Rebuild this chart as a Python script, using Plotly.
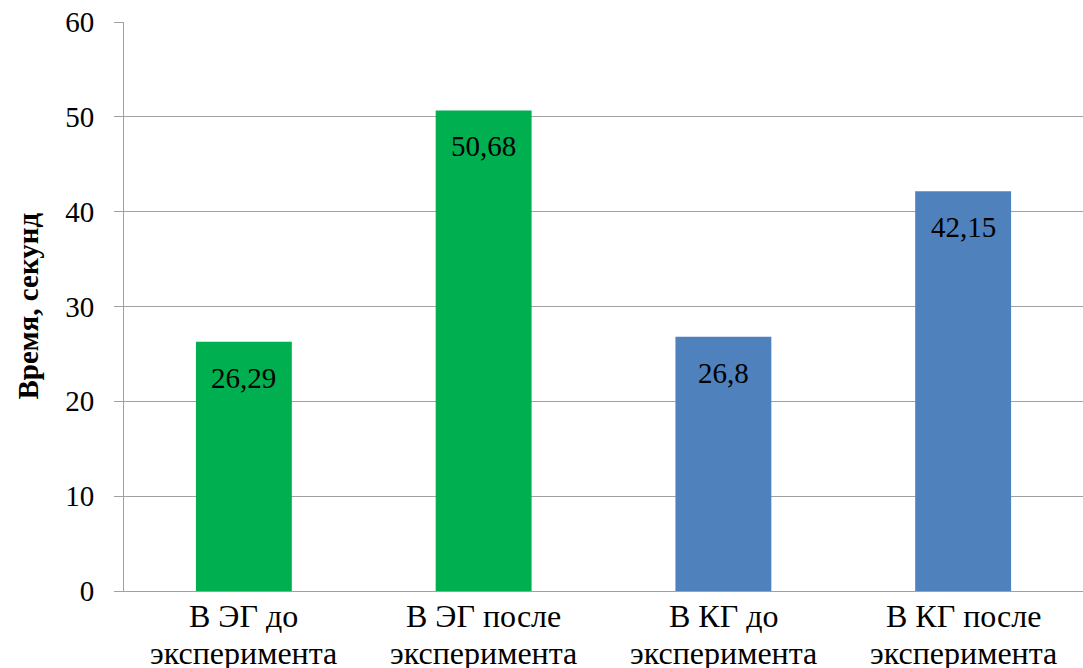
import plotly.graph_objects as go

# Results by group, seconds
categories = ["ЭГ до", "ЭГ после", "КГ до", "КГ после"]
label_line1 = ["В ЭГ до", "В ЭГ после", "В КГ до", "В КГ после"]
label_line2 = ["эксперимента", "эксперимента", "эксперимента", "эксперимента"]
values = [26.29, 50.68, 26.8, 42.15]
value_labels = ["26,29", "50,68", "26,8", "42,15"]
bar_colors = ["#00b050", "#00b050", "#4f81bd", "#4f81bd"]
y_title = "Время, секунд"

grid = "#a0a0a0"
font_family = "Liberation Serif"

fig = go.Figure(go.Bar(
    x=categories, y=values, width=0.4,
    marker=dict(color=bar_colors, line=dict(width=0)),
    hoverinfo="skip",
))

# value labels just inside the top of each bar
for cat, val, lab in zip(categories, values, value_labels):
    fig.add_annotation(x=cat, y=val, text=lab, showarrow=False,
                       yanchor="top", yshift=-18,
                       font=dict(family=font_family, size=29, color="#000000"))

# two-line category labels under the axis, tighter line spacing
for cat, l1, l2 in zip(categories, label_line1, label_line2):
    fig.add_annotation(x=cat, y=0, text=l1, showarrow=False,
                       yanchor="middle", yshift=-25,
                       font=dict(family=font_family, size=32, color="#000000"))
    fig.add_annotation(x=cat, y=0, text=l2, showarrow=False,
                       yanchor="middle", yshift=-62,
                       font=dict(family=font_family, size=32, color="#000000"))

# vertical axis title
fig.add_annotation(xref="paper", yref="paper", x=(27 - 124) / 959, y=0.5,
                   text=f"<b>{y_title}</b>", textangle=-90, showarrow=False,
                   xanchor="center", yanchor="middle",
                   font=dict(family=font_family, size=29, color="#000000"))

fig.update_layout(
    width=1083, height=668,
    margin=dict(l=124, r=0, t=22, b=77),
    paper_bgcolor="white", plot_bgcolor="white",
    showlegend=False,
    font=dict(family=font_family, color="#000000"),
)
fig.update_yaxes(
    range=[0, 60], dtick=10, tickformat="d",
    showgrid=True, gridcolor=grid, gridwidth=1,
    showline=True, linecolor=grid, linewidth=1,
    ticks="outside", ticklen=9, tickcolor=grid,
    ticklabelstandoff=14, automargin=False,
    tickfont=dict(family=font_family, size=29, color="#000000"),
    zeroline=False,
)
fig.update_xaxes(
    showline=True, linecolor=grid, linewidth=1, automargin=False,
    ticks="", showticklabels=False,
)

fig.write_html("out.html")
